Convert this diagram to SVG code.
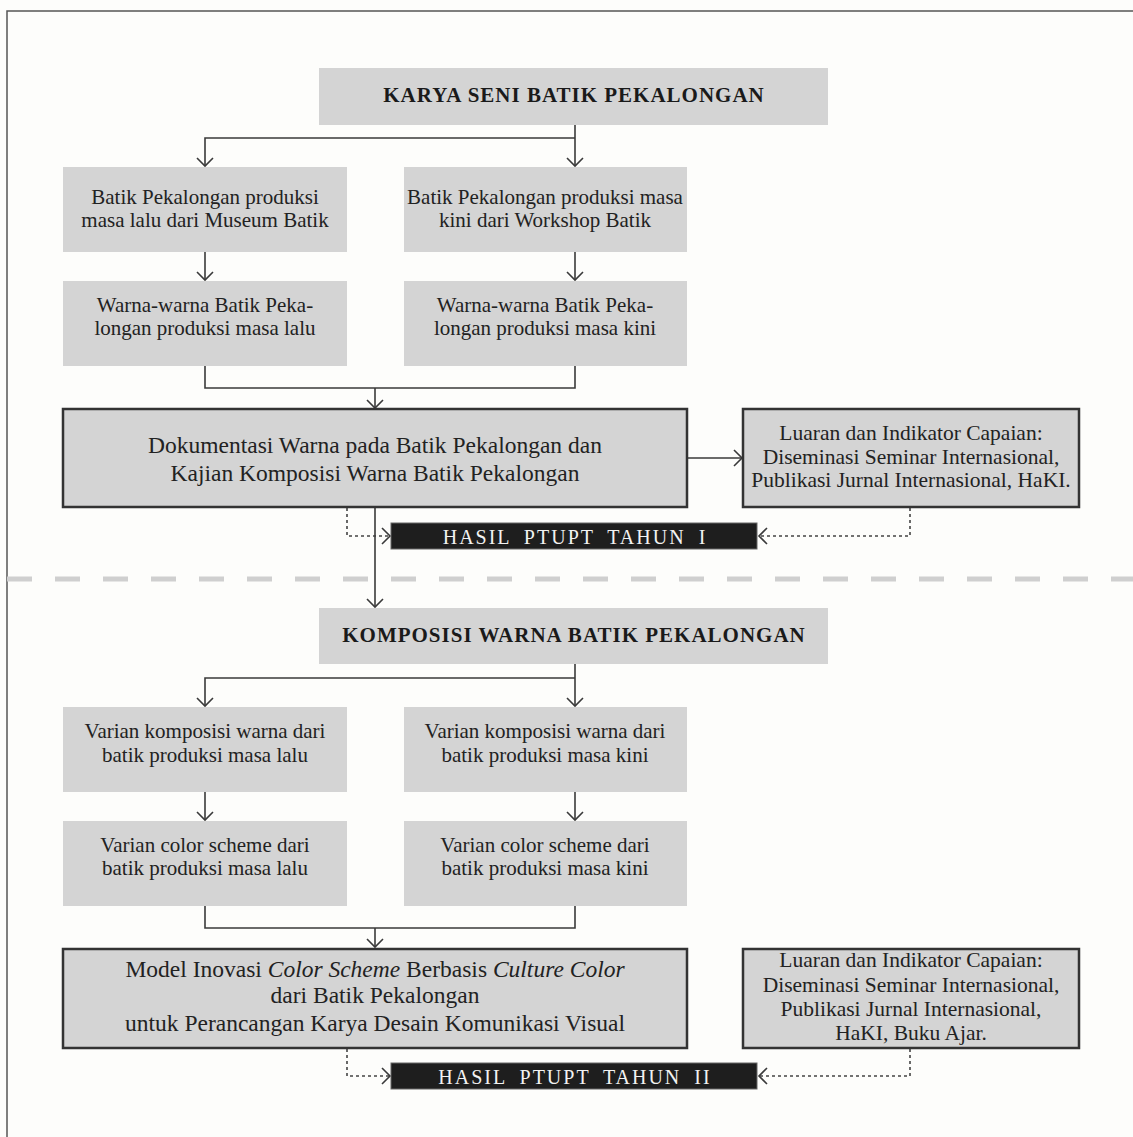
<svg xmlns="http://www.w3.org/2000/svg" width="1133" height="1137" viewBox="0 0 1133 1137">
<defs>
<style>
.bg{fill:#fdfdfb}
.box{fill:#d4d4d4}
.bbox{fill:#d4d4d4;stroke:#333;stroke-width:2.5}
.dark{fill:#1e1e1e;stroke:#666;stroke-width:1}
.t{font-family:"Liberation Serif","Times New Roman",serif;font-size:21px;fill:#222;text-anchor:middle}
.tl{font-size:23.5px}
.tm{font-size:21.5px}
.h{font-family:"Liberation Serif","Times New Roman",serif;font-size:21px;font-weight:bold;fill:#1a1a1a;text-anchor:middle;letter-spacing:1px}
.w{font-family:"Liberation Serif","Times New Roman",serif;font-size:20px;fill:#f2f2f2;text-anchor:middle;letter-spacing:2px;word-spacing:6px}
.ln{fill:none;stroke:#3a3a3a;stroke-width:1.6}
.dt{fill:none;stroke:#444;stroke-width:1.6;stroke-dasharray:3 3}
.sep{fill:none;stroke:#cfcfcf;stroke-width:5;stroke-dasharray:25 23}
.frame{fill:none;stroke:#555;stroke-width:1.5}
</style>
<marker id="arr" viewBox="-10 -10 12 20" markerWidth="12" markerHeight="20" refX="0" refY="0" orient="auto" markerUnits="userSpaceOnUse">
<path d="M-8,-8 L0,0 L-8,8" fill="none" stroke="#3a3a3a" stroke-width="1.6"/>
</marker>
</defs>
<rect class="bg" x="0" y="0" width="1133" height="1137"/>
<path class="frame" d="M7,1137 V11 H1133"/>
<path class="sep" d="M7,579 H1133"/>

<g id="connectors">
<path class="ln" d="M575,125 V166" marker-end="url(#arr)"/>
<path class="ln" d="M575,138 H205 V166" marker-end="url(#arr)"/>
<path class="ln" d="M205,252 V280" marker-end="url(#arr)"/>
<path class="ln" d="M575,252 V280" marker-end="url(#arr)"/>
<path class="ln" d="M205,366 V388 H575 V366"/>
<path class="ln" d="M375,388 V408" marker-end="url(#arr)"/>
<path class="ln" d="M687,458 H742" marker-end="url(#arr)"/>
<path class="dt" d="M347,508 V536 H390" marker-end="url(#arr)"/>
<path class="dt" d="M910,508 V536 H759" marker-end="url(#arr)"/>
<path class="ln" d="M375,508 V607" marker-end="url(#arr)"/>
<path class="ln" d="M575,664 V706" marker-end="url(#arr)"/>
<path class="ln" d="M575,678 H205 V706" marker-end="url(#arr)"/>
<path class="ln" d="M205,792 V820" marker-end="url(#arr)"/>
<path class="ln" d="M575,792 V820" marker-end="url(#arr)"/>
<path class="ln" d="M205,906 V928 H575 V906"/>
<path class="ln" d="M375,928 V947" marker-end="url(#arr)"/>
<path class="dt" d="M347,1049 V1076 H390" marker-end="url(#arr)"/>
<path class="dt" d="M910,1049 V1076 H759" marker-end="url(#arr)"/>
</g>

<g id="karya">
<rect class="box" x="319" y="68" width="509" height="57"/>
<text class="h" x="574" y="102">KARYA SENI BATIK PEKALONGAN</text>
</g>
<g id="batik-lalu">
<rect class="box" x="63" y="167" width="284" height="85"/>
<text class="t" x="205" y="204">Batik Pekalongan produksi</text>
<text class="t" x="205" y="227">masa lalu dari Museum Batik</text>
</g>
<g id="batik-kini">
<rect class="box" x="404" y="167" width="283" height="85"/>
<text class="t" x="545" y="204">Batik Pekalongan produksi masa</text>
<text class="t" x="545" y="227">kini dari Workshop Batik</text>
</g>
<g id="warna-lalu">
<rect class="box" x="63" y="281" width="284" height="85"/>
<text class="t" x="205" y="312">Warna-warna Batik Peka-</text>
<text class="t" x="205" y="335">longan produksi masa lalu</text>
</g>
<g id="warna-kini">
<rect class="box" x="404" y="281" width="283" height="85"/>
<text class="t" x="545" y="312">Warna-warna Batik Peka-</text>
<text class="t" x="545" y="335">longan produksi masa kini</text>
</g>
<g id="dokumentasi">
<rect class="bbox" x="63" y="409" width="624" height="98"/>
<text class="t tl" x="375" y="453">Dokumentasi Warna pada Batik Pekalongan dan</text>
<text class="t tl" x="375" y="481">Kajian Komposisi Warna Batik Pekalongan</text>
</g>
<g id="luaran-1">
<rect class="bbox" x="743" y="409" width="336" height="98"/>
<text class="t tm" x="911" y="440">Luaran dan Indikator Capaian:</text>
<text class="t tm" x="911" y="464">Diseminasi Seminar Internasional,</text>
<text class="t tm" x="911" y="487">Publikasi Jurnal Internasional, HaKI.</text>
</g>
<g id="hasil-1">
<rect class="dark" x="391" y="523" width="366" height="26"/>
<text class="w" x="575" y="544">HASIL PTUPT TAHUN I</text>
</g>

<g id="komposisi">
<rect class="box" x="319" y="608" width="509" height="56"/>
<text class="h" x="574" y="642">KOMPOSISI WARNA BATIK PEKALONGAN</text>
</g>
<g id="varian-komposisi-lalu">
<rect class="box" x="63" y="707" width="284" height="85"/>
<text class="t" x="205" y="738">Varian komposisi warna dari</text>
<text class="t" x="205" y="762">batik produksi masa lalu</text>
</g>
<g id="varian-komposisi-kini">
<rect class="box" x="404" y="707" width="283" height="85"/>
<text class="t" x="545" y="738">Varian komposisi warna dari</text>
<text class="t" x="545" y="762">batik produksi masa kini</text>
</g>
<g id="varian-scheme-lalu">
<rect class="box" x="63" y="821" width="284" height="85"/>
<text class="t" x="205" y="852">Varian color scheme dari</text>
<text class="t" x="205" y="875">batik produksi masa lalu</text>
</g>
<g id="varian-scheme-kini">
<rect class="box" x="404" y="821" width="283" height="85"/>
<text class="t" x="545" y="852">Varian color scheme dari</text>
<text class="t" x="545" y="875">batik produksi masa kini</text>
</g>
<g id="model">
<rect class="bbox" x="63" y="949" width="624" height="99"/>
<text class="t tl" x="375" y="977">Model Inovasi <tspan font-style="italic">Color Scheme</tspan> Berbasis <tspan font-style="italic">Culture Color</tspan></text>
<text class="t tl" x="375" y="1003">dari Batik Pekalongan</text>
<text class="t tl" x="375" y="1031">untuk Perancangan Karya Desain Komunikasi Visual</text>
</g>
<g id="luaran-2">
<rect class="bbox" x="743" y="949" width="336" height="99"/>
<text class="t tm" x="911" y="967">Luaran dan Indikator Capaian:</text>
<text class="t tm" x="911" y="992">Diseminasi Seminar Internasional,</text>
<text class="t tm" x="911" y="1016">Publikasi Jurnal Internasional,</text>
<text class="t tm" x="911" y="1040">HaKI, Buku Ajar.</text>
</g>
<g id="hasil-2">
<rect class="dark" x="391" y="1063" width="366" height="26"/>
<text class="w" x="575" y="1084">HASIL PTUPT TAHUN II</text>
</g>
</svg>
